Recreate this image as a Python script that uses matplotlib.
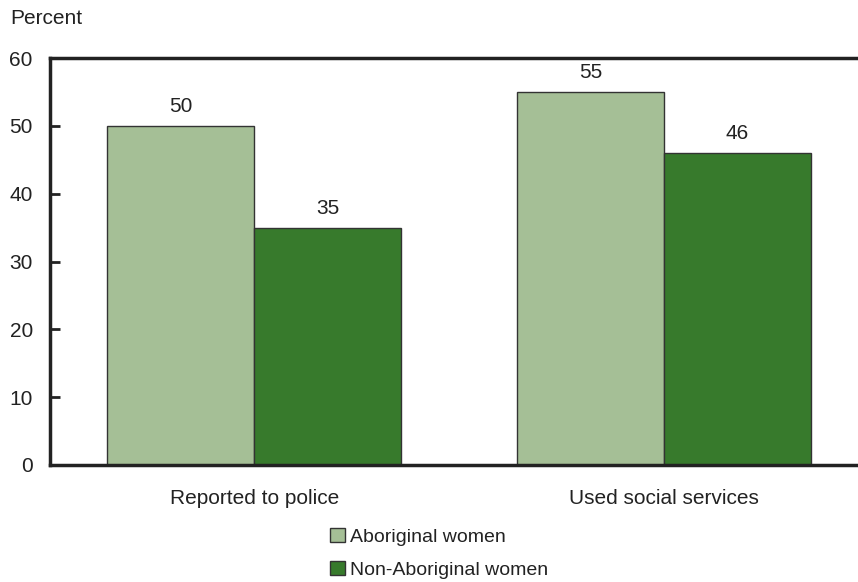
import matplotlib
matplotlib.use("Agg")
import matplotlib.pyplot as plt
import numpy as np

plt.rcParams['font.family'] = ['Liberation Sans', 'DejaVu Sans']

categories = ["Reported to police", "Used social services"]
series_names = ["Aboriginal women", "Non-Aboriginal women"]
aboriginal = [50, 55]
non_aboriginal = [35, 46]
yticks = [0, 10, 20, 30, 40, 50, 60]

colors = ["#a5bf96", "#377a2c"]
edge = "#333333"
txt = "#222222"

fig = plt.figure(figsize=(8.58, 5.82), dpi=100)
ax = fig.add_axes([49.5/858, 1-465/582, 1-49.5/858, (465-58)/582])

x = np.arange(len(categories))
w = 147/410
b1 = ax.bar(x - w/2, aboriginal, w, color=colors[0], edgecolor=edge, linewidth=1.0, label=series_names[0])
b2 = ax.bar(x + w/2, non_aboriginal, w, color=colors[1], edgecolor=edge, linewidth=1.0, label=series_names[1])

for bars, vals in ((b1, aboriginal), (b2, non_aboriginal)):
    for r, v in zip(bars, vals):
        ax.text(r.get_x() + r.get_width()/2, v + 1.4, f"{v}", ha="center", va="bottom", fontsize=15, color=txt)

ax.set_xlim(-0.5, 1 + 194/410)
ax.set_ylim(0, 60)
ax.set_yticks(yticks)
ax.set_yticklabels([str(t) for t in yticks], fontsize=15)
ax.tick_params(axis='y', direction='in', length=7, width=2, color=txt, pad=12, labelcolor=txt)
ax.set_xticks(x)
ax.set_xticklabels(categories, fontsize=15, color=txt)
ax.tick_params(axis='x', length=0, pad=17)
for s in ["left", "bottom", "top"]:
    ax.spines[s].set_linewidth(2.5)
    ax.spines[s].set_color(txt)
ax.spines["right"].set_visible(False)

fig.text(10/858, 1-19/582, "Percent", fontsize=15, va="center", ha="left", color=txt)

leg = fig.legend(handles=[b1, b2], labels=series_names, loc="upper left",
                 bbox_to_anchor=(330/858, 1-528/582), frameon=False, fontsize=14,
                 handlelength=0.75, handleheight=0.75, handletextpad=0.3, labelspacing=0.78,
                 borderaxespad=0, borderpad=0)
for t in leg.get_texts():
    t.set_color(txt)

fig.savefig("out.png", dpi=100)
